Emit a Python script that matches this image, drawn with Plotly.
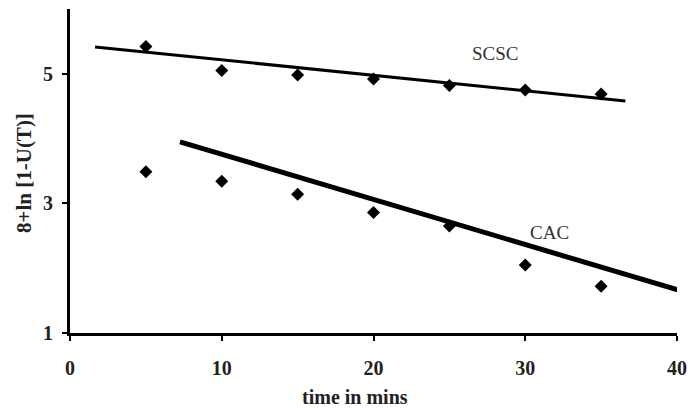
import plotly.graph_objects as go

time_min = [5, 10, 15, 20, 25, 30, 35]
scsc_vals = [5.42, 5.05, 4.98, 4.92, 4.82, 4.75, 4.69]
cac_vals = [3.49, 3.34, 3.14, 2.86, 2.65, 2.05, 1.72]

scsc_fit_x = [1.65, 36.6]
scsc_fit_y = [5.415, 4.58]
cac_fit_x = [7.25, 40.7]
cac_fit_y = [3.95, 1.62]

x_ticks = [0, 10, 20, 30, 40]
y_ticks = [1, 3, 5]

font_fam = "Liberation Serif, Times New Roman, serif"

fig = go.Figure()
fig.add_trace(go.Scatter(x=scsc_fit_x, y=scsc_fit_y, mode="lines",
                         line=dict(color="black", width=3), showlegend=False))
fig.add_trace(go.Scatter(x=cac_fit_x, y=cac_fit_y, mode="lines",
                         line=dict(color="black", width=5), showlegend=False))
fig.add_trace(go.Scatter(x=time_min, y=scsc_vals, mode="markers",
                         marker=dict(symbol="diamond", size=10, color="black"), showlegend=False))
fig.add_trace(go.Scatter(x=time_min, y=cac_vals, mode="markers",
                         marker=dict(symbol="diamond", size=10, color="black"), showlegend=False))

fig.add_annotation(x=28.0, y=5.32, text="SCSC", showarrow=False,
                   font=dict(family=font_fam, size=19, color="#333"))
fig.add_annotation(x=31.6, y=2.55, text="CAC", showarrow=False,
                   font=dict(family=font_fam, size=19, color="#333"))

# axis titles
fig.add_annotation(xref="paper", yref="paper", x=(355 - 70) / 607, y=-(397 - 333) / 324,
                   text="<b>time in mins</b>", showarrow=False,
                   font=dict(family=font_fam, size=20, color="#222"),
                   xanchor="center", yanchor="middle")
fig.add_annotation(xref="paper", yref="paper", x=-(70 - 24) / 607, y=(333 - 173) / 324,
                   text="<b>8+ln [1-U(T)]</b>", showarrow=False, textangle=-90,
                   font=dict(family=font_fam, size=21, color="#222"),
                   xanchor="center", yanchor="middle")

fig.update_layout(
    width=688, height=414,
    margin=dict(l=70, r=11, t=9, b=81, autoexpand=False),
    plot_bgcolor="white", paper_bgcolor="white",
    font=dict(family=font_fam, color="black"),
)
fig.update_xaxes(range=[0, 40], tickvals=x_ticks, showgrid=False, zeroline=False,
                 automargin=False,
                 showline=True, linecolor="black", linewidth=3,
                 ticks="outside", ticklen=5, tickwidth=2, tickcolor="black",
                 tickfont=dict(size=20, family=font_fam, weight="bold", color="#222"),
                 ticklabelstandoff=10)
fig.update_yaxes(range=[1, 6], tickvals=y_ticks, showgrid=False, zeroline=False,
                 automargin=False,
                 showline=True, linecolor="black", linewidth=3,
                 ticks="outside", ticklen=5, tickwidth=2, tickcolor="black",
                 tickfont=dict(size=20, family=font_fam, weight="bold", color="#222"),
                 ticklabelstandoff=5)

fig.write_html("out.html")
